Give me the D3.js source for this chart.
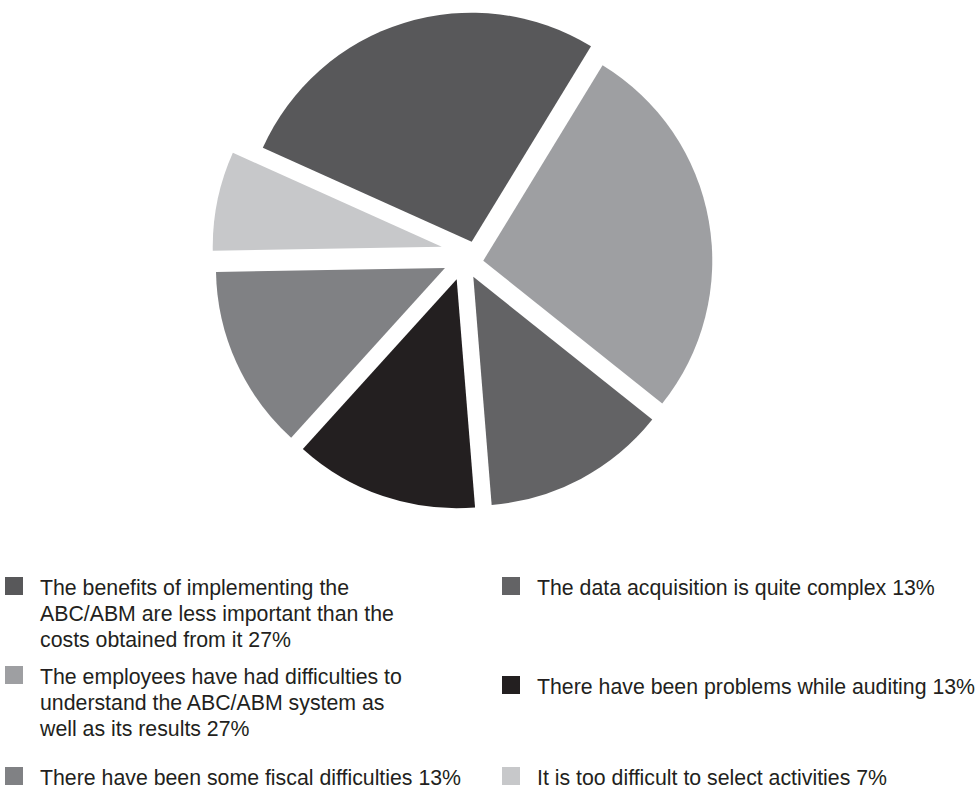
<!DOCTYPE html>
<html>
<head>
<meta charset="utf-8">
<script src="https://cdn.jsdelivr.net/npm/d3@7"></script>
<style>
  html, body { margin: 0; padding: 0; background: #ffffff; }
  svg { display: block; }
  text { font-family: "Liberation Sans", Arial, Helvetica, sans-serif; fill: #231f20; }
</style>
</head>
<body>
<svg id="chart" width="978" height="791"></svg>
<script>
// ---- data ----
const categories = [
  "The benefits of implementing the ABC/ABM are less important than the costs obtained from it",
  "The employees have had difficulties to understand the ABC/ABM system as well as its results",
  "The data acquisition is quite complex",
  "There have been problems while auditing",
  "There have been some fiscal difficulties",
  "It is too difficult to select activities"
];
const values = [27, 27, 13, 13, 13, 7];
const legendLines = [
  ["The benefits of implementing the", "ABC/ABM are less important than the", "costs obtained from it 27%"],
  ["The employees have had difficulties to", "understand the ABC/ABM system as", "well as its results 27%"],
  ["The data acquisition is quite complex 13%"],
  ["There have been problems while auditing 13%"],
  ["There have been some fiscal difficulties 13%"],
  ["It is too difficult to select activities 7%"]
];

// ---- style / layout ----
const colors = ["#58585a", "#9e9fa2", "#636365", "#231f20", "#808184", "#c7c8ca"];
const center = { x: 463, y: 262 };
const radius = 229;
const startDeg = -65.8;
// explode offsets per slice: [radial, tangential] in px
const explode = [[16.8, 14.3], [20.2, 2.2], [17.8, -2.2], [18.4, 0.4], [18.9, 2.0], [23.9, 10.7]];
// legend layout: column and baseline of first line for each item
const legendPos = [
  { col: 0, y: 595 }, { col: 0, y: 684 }, { col: 1, y: 595 },
  { col: 1, y: 694 }, { col: 0, y: 785 }, { col: 1, y: 785 }
];
const colX = [5, 502];
const swatch = 18;
const textGap = 17;
const lineH = 26;
const fontSize = 21.3;

const svg = d3.select("#chart");

const pie = d3.pie().sort(null).value(d => d)
  .startAngle(startDeg * Math.PI / 180)
  .endAngle(startDeg * Math.PI / 180 + 2 * Math.PI);
const arc = d3.arc().innerRadius(0).outerRadius(radius);

const g = svg.append("g").attr("transform", `translate(${center.x},${center.y})`);
g.selectAll("path")
  .data(pie(values))
  .join("path")
  .attr("d", arc)
  .attr("fill", (d, i) => colors[i])
  .attr("transform", (d, i) => {
    const m = (d.startAngle + d.endAngle) / 2;
    const ux = Math.sin(m), uy = -Math.cos(m);
    const vx = Math.cos(m), vy = Math.sin(m);
    const [r, t] = explode[i];
    return `translate(${r * ux + t * vx},${r * uy + t * vy})`;
  });

// legend
const leg = svg.append("g");
categories.forEach((c, i) => {
  const p = legendPos[i];
  const x = colX[p.col];
  const item = leg.append("g");
  item.append("rect")
    .attr("x", x).attr("y", p.y - swatch)
    .attr("width", swatch).attr("height", swatch)
    .attr("fill", colors[i]);
  const tx = x + swatch + textGap;
  const t = item.append("text")
    .attr("x", tx)
    .attr("y", p.y)
    .style("font-size", fontSize + "px");
  legendLines[i].forEach((ln, k) => {
    t.append("tspan").attr("x", tx).attr("y", p.y + k * lineH).text(ln);
  });
});
</script>
</body>
</html>
